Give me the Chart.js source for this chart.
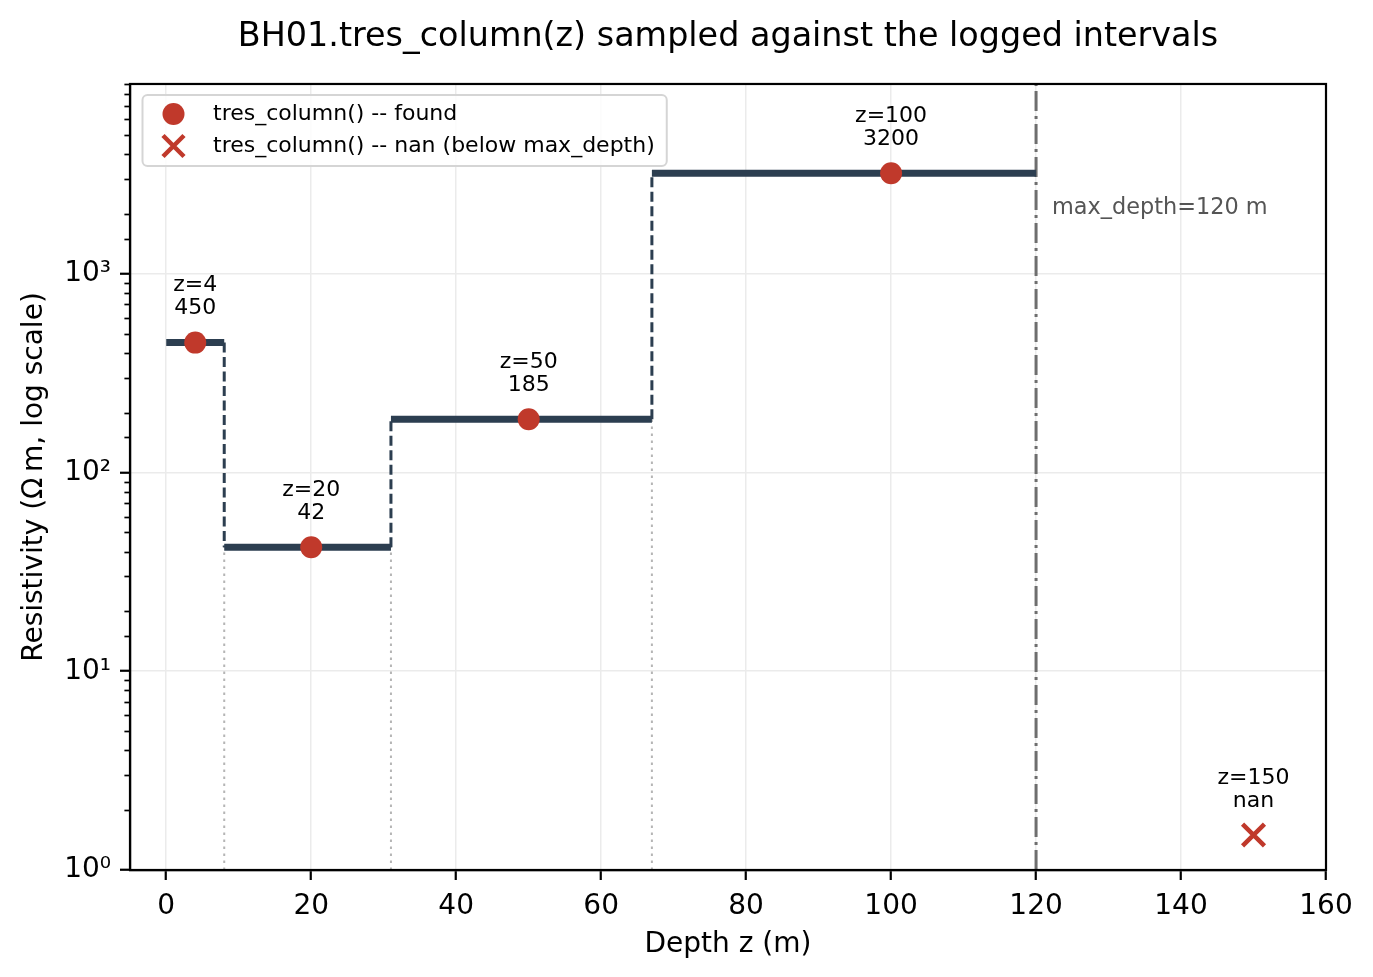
<!DOCTYPE html>
<html>
<head>
<meta charset="utf-8">
<script src="https://cdn.jsdelivr.net/npm/chart.js@4.4.1/dist/chart.umd.min.js"></script>
<style>
  html, body { margin: 0; padding: 0; background: #fff; }
</style>
</head>
<body>
<canvas id="chart" width="1373" height="977"></canvas>
<script>
// logged intervals: top / bottom depth (m) and resistivity of each layer
const layerTop = [0, 8, 31, 67];
const layerBottom = [8, 31, 67, 120];
const layerRho = [450, 42, 185, 3200];

// depths sampled with tres_column() that returned a value
const sampleZ = [4, 20, 50, 100];
const sampleRho = [450, 42, 185, 3200];

// sample below max_depth -> nan, marker parked near the axis bottom
const nanZ = [150];
const nanMarkerRho = [1.5];

const maxDepth = 120;
const yMin = 1;
const yMax = 9000;

const xTicks = [0, 20, 40, 60, 80, 100, 120, 140, 160];
const yTicks = [1, 10, 100, 1000];
const yTickLabels = ['10⁰', '10¹', '10²', '10³'];

const RED = '#c0392b';
const NAVY = '#2c3e50';

Chart.defaults.font.family = "'DejaVu Sans', sans-serif";
Chart.defaults.color = '#000';

// horizontal run for every layer (null breaks the line between layers)
const layerPts = [];
layerTop.forEach((top, i) => {
  layerPts.push({ x: top, y: layerRho[i] });
  layerPts.push({ x: layerBottom[i], y: layerRho[i] });
  layerPts.push({ x: layerBottom[i], y: null });
});

// dashed risers joining neighbouring layers, dotted markers below them
const riserPts = [];
const boundaryPts = [];
for (let i = 1; i < layerTop.length; i++) {
  const z = layerTop[i];
  riserPts.push({ x: z, y: layerRho[i - 1] }, { x: z, y: layerRho[i] }, { x: z, y: null });
  boundaryPts.push({ x: z, y: yMin }, { x: z, y: Math.min(layerRho[i - 1], layerRho[i]) }, { x: z, y: null });
}

const isMajorY = v => yTicks.includes(v);

const extras = {
  id: 'extras',
  afterDatasetsDraw(chart) {
    const { ctx, chartArea: a, scales: { x, y } } = chart;
    ctx.save();

    // minor log ticks
    ctx.strokeStyle = '#000';
    ctx.lineWidth = 1.7;
    y.ticks.forEach(t => {
      if (isMajorY(t.value)) return;
      const py = Math.round(y.getPixelForValue(t.value)) + 0.5;
      ctx.beginPath();
      ctx.moveTo(a.left - 5.6, py);
      ctx.lineTo(a.left, py);
      ctx.stroke();
    });

    // annotations above each sample
    ctx.font = "22px 'DejaVu Sans'";
    ctx.fillStyle = '#000';
    ctx.textAlign = 'center';
    ctx.textBaseline = 'middle';
    const label = (z, val, rho) => {
      const px = x.getPixelForValue(z);
      const py = y.getPixelForValue(rho);
      ctx.fillText('z=' + z, px, py - 57);
      ctx.fillText(val, px, py - 34);
    };
    sampleZ.forEach((z, i) => label(z, String(sampleRho[i]), sampleRho[i]));
    nanZ.forEach((z, i) => label(z, 'nan', nanMarkerRho[i]));

    // max_depth text
    ctx.font = "22.4px 'DejaVu Sans'";
    ctx.fillStyle = '#555';
    ctx.textAlign = 'left';
    ctx.fillText('max_depth=' + maxDepth + ' m', x.getPixelForValue(maxDepth) + 16, a.top + 124);

    // frame
    ctx.strokeStyle = '#000';
    ctx.lineWidth = 2.2;
    ctx.strokeRect(a.left, a.top, a.right - a.left, a.bottom - a.top);

    // legend
    const entries = chart.data.datasets.filter(d => d.legendStyle);
    ctx.font = "22px 'DejaVu Sans'";
    const textW = Math.max(...entries.map(d => ctx.measureText(d.label).width));
    const bx = a.left + 12.5, by = a.top + 11, bw = 70.5 + textW + 12, bh = 71;
    ctx.beginPath();
    ctx.roundRect(bx, by, bw, bh, 5);
    ctx.fillStyle = 'rgba(255,255,255,0.85)';
    ctx.fill();
    ctx.strokeStyle = '#d5d5d5';
    ctx.lineWidth = 2;
    ctx.stroke();
    entries.forEach((d, i) => {
      const my = by + 19 + i * 32, mx = bx + 31;
      if (d.legendStyle === 'circle') {
        ctx.beginPath();
        ctx.arc(mx, my, 11, 0, Math.PI * 2);
        ctx.fillStyle = RED;
        ctx.fill();
      } else {
        ctx.strokeStyle = RED;
        ctx.lineWidth = 4.5;
        ctx.beginPath();
        ctx.moveTo(mx - 10.5, my - 10.5); ctx.lineTo(mx + 10.5, my + 10.5);
        ctx.moveTo(mx + 10.5, my - 10.5); ctx.lineTo(mx - 10.5, my + 10.5);
        ctx.stroke();
      }
      ctx.fillStyle = '#000';
      ctx.textAlign = 'left';
      ctx.textBaseline = 'middle';
      ctx.fillText(d.label, bx + 70.5, my);
    });
    ctx.restore();
  }
};

new Chart(document.getElementById('chart'), {
  type: 'line',
  data: {
    datasets: [
      {
        label: 'tres_column() -- found',
        legendStyle: 'circle',
        data: sampleZ.map((z, i) => ({ x: z, y: sampleRho[i] })),
        showLine: false,
        pointStyle: 'circle',
        pointRadius: 11,
        pointBackgroundColor: RED,
        pointBorderWidth: 0,
        clip: false
      },
      {
        label: 'tres_column() -- nan (below max_depth)',
        legendStyle: 'cross',
        data: nanZ.map((z, i) => ({ x: z, y: nanMarkerRho[i] })),
        showLine: false,
        pointStyle: 'crossRot',
        pointRadius: 15.5,
        pointBorderColor: RED,
        pointBorderWidth: 4.5,
        clip: false
      },
      {
        label: 'layers',
        data: layerPts,
        borderColor: NAVY,
        borderWidth: 7,
        pointRadius: 0,
        spanGaps: false
      },
      {
        label: 'risers',
        data: riserPts,
        borderColor: NAVY,
        borderWidth: 3,
        borderDash: [10, 4.5],
        pointRadius: 0,
        spanGaps: false
      },
      {
        label: 'boundaries',
        data: boundaryPts,
        borderColor: '#b5b5b5',
        borderWidth: 2,
        borderDash: [2.5, 4.5],
        pointRadius: 0,
        spanGaps: false
      },
      {
        label: 'max_depth',
        data: [{ x: maxDepth, y: yMin }, { x: maxDepth, y: yMax }],
        borderColor: '#6e6e6e',
        borderWidth: 3,
        borderDash: [20, 5, 3, 5],
        pointRadius: 0
      }
    ]
  },
  options: {
    responsive: false,
    animation: false,
    layout: { padding: { left: 0, right: 47, top: 0, bottom: 0 } },
    plugins: {
      legend: { display: false },
      tooltip: { enabled: false },
      title: {
        display: true,
        text: 'BH01.tres_column(z) sampled against the logged intervals',
        fullSize: false,
        font: { size: 33.4, weight: 'normal' },
        color: '#000',
        padding: { top: 17.5, bottom: 26.4 }
      }
    },
    scales: {
      x: {
        type: 'linear',
        min: -5,
        max: 160,
        afterBuildTicks: s => { s.ticks = xTicks.map(v => ({ value: v })); },
        afterFit: s => { s.height = 107; },
        ticks: { font: { size: 28 }, padding: 10, color: '#000', maxRotation: 0 },
        grid: { color: '#ebebeb', lineWidth: 1.5, tickColor: '#000', tickWidth: 2.2, tickLength: 10 },
        border: { color: '#000', width: 2.2 },
        title: { display: true, text: 'Depth z (m)', font: { size: 28 }, color: '#000', padding: { top: 0, bottom: 15 } }
      },
      y: {
        type: 'logarithmic',
        min: yMin,
        max: yMax,
        afterFit: s => { s.width = 130; },
        ticks: {
          autoSkip: false,
          font: { size: 28 },
          padding: 9,
          color: '#000',
          callback: v => {
            const i = yTicks.indexOf(v);
            return i >= 0 ? yTickLabels[i] : '';
          }
        },
        grid: {
          color: c => isMajorY(c.tick && c.tick.value) ? '#ebebeb' : 'rgba(0,0,0,0)',
          lineWidth: 1.5,
          tickColor: c => isMajorY(c.tick && c.tick.value) ? '#000' : 'rgba(0,0,0,0)',
          tickWidth: 2.2,
          tickLength: 10
        },
        border: { color: '#000', width: 2.2 },
        title: { display: true, text: 'Resistivity (Ω\u2009m, log scale)', font: { size: 28 }, color: '#000', padding: { top: 18, bottom: 0 } }
      }
    }
  },
  plugins: [extras]
});
</script>
</body>
</html>
